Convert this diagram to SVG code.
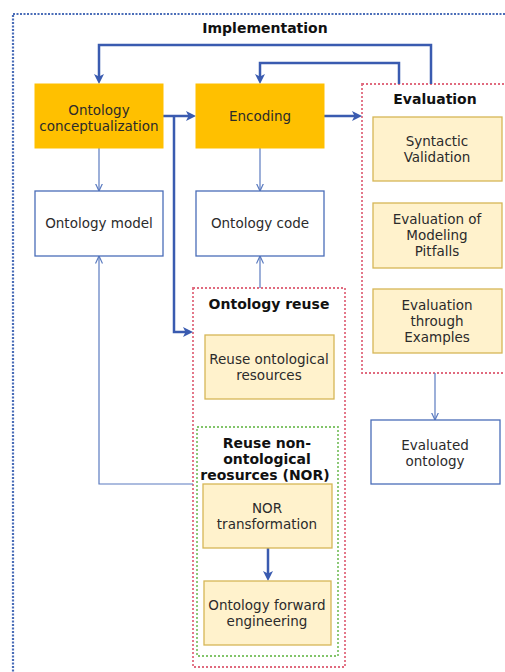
<svg xmlns="http://www.w3.org/2000/svg" width="505" height="672" viewBox="0 0 505 672">
<style>
.t{font-family:"DejaVu Sans",Verdana,sans-serif;font-size:13.5px;fill:#2b2b2b;text-anchor:middle}
.b{font-family:"DejaVu Sans",Verdana,sans-serif;font-size:14px;font-weight:bold;fill:#111;text-anchor:middle}
.main{fill:#FFC000;stroke:#FFC000;stroke-width:1}
.out{fill:#fff;stroke:#4A6DB8;stroke-width:1.3}
.sub{fill:#FFF2CC;stroke:#D6B656;stroke-width:1.3}
.red{fill:none;stroke:#E06A7E;stroke-width:1.8;stroke-dasharray:2 2}
.grn{fill:none;stroke:#82C46A;stroke-width:1.8;stroke-dasharray:2 2}
.thick{fill:none;stroke:#3A5BB0;stroke-width:2.5;marker-end:url(#ah)}
.thin{fill:none;stroke:#5B7BC0;stroke-width:1.2;marker-end:url(#av)}
</style>
<defs>
<marker id="ah" viewBox="0 0 10 10" refX="6" refY="5" markerWidth="10" markerHeight="10" markerUnits="userSpaceOnUse" orient="auto">
<path d="M0,0 L10,5 L0,10 L2.5,5 Z" fill="#3A5BB0"/>
</marker>
<marker id="av" viewBox="0 0 8 8" refX="7.5" refY="4" markerWidth="8" markerHeight="8" markerUnits="userSpaceOnUse" orient="auto">
<path d="M0,0.5 L7.5,4 L0,7.5" fill="none" stroke="#5B7BC0" stroke-width="1.2"/>
</marker>
</defs>

<g id="implementation">
<rect x="13" y="14" width="600" height="700" fill="none" stroke="#4A6DB8" stroke-width="2.2" stroke-dasharray="2 1.5"/>
<text class="b" x="265" y="33">Implementation</text>
</g>

<g id="evaluation">
<rect class="red" x="362" y="84" width="200" height="289"/>
<text class="b" x="435" y="104">Evaluation</text>
</g>

<g id="ontology-reuse">
<rect class="red" x="193" y="288" width="152" height="379"/>
<text class="b" x="269" y="309">Ontology reuse</text>
</g>

<g id="nor">
<rect class="grn" x="197" y="427" width="141" height="229"/>
<text class="b" x="267" y="448">Reuse non-</text>
<text class="b" x="267" y="464">ontological</text>
<text class="b" x="265" y="480" font-size="14.8">reosurces (NOR)</text>
</g>

<g id="connectors">
<path class="thick" d="M431,84 V45 H99 V80"/>
<path class="thick" d="M399,84 V63 H260 V80"/>
<path class="thick" d="M163,116 H192"/>
<path class="thick" d="M174,116 V332 H189"/>
<path class="thick" d="M324,116 H358"/>
<path class="thick" d="M268,548 V577"/>
<path class="thin" d="M99,148 V191"/>
<path class="thin" d="M260,148 V191"/>
<path class="thin" d="M260,288 V256"/>
<path class="thin" d="M435,373 V420"/>
<path class="thin" d="M193,484 H99 V256"/>
</g>

<g id="ontology-conceptualization">
<rect class="main" x="35" y="84" width="128" height="64"/>
<text class="t" x="99" y="115">Ontology</text>
<text class="t" x="99" y="131">conceptualization</text>
</g>

<g id="encoding">
<rect class="main" x="196" y="84" width="128" height="64"/>
<text class="t" x="260" y="121">Encoding</text>
</g>

<g id="ontology-model">
<rect class="out" x="35" y="191" width="128" height="65"/>
<text class="t" x="99" y="228">Ontology model</text>
</g>

<g id="ontology-code">
<rect class="out" x="196" y="191" width="128" height="65"/>
<text class="t" x="260" y="228">Ontology code</text>
</g>

<g id="syntactic-validation">
<rect class="sub" x="373" y="117" width="129" height="64"/>
<text class="t" x="437" y="146">Syntactic</text>
<text class="t" x="437" y="162">Validation</text>
</g>

<g id="modeling-pitfalls">
<rect class="sub" x="373" y="203" width="129" height="65"/>
<text class="t" x="437" y="224">Evaluation of</text>
<text class="t" x="437" y="240">Modeling</text>
<text class="t" x="437" y="256">Pitfalls</text>
</g>

<g id="through-examples">
<rect class="sub" x="373" y="289" width="129" height="64"/>
<text class="t" x="437" y="310">Evaluation</text>
<text class="t" x="437" y="326">through</text>
<text class="t" x="437" y="342">Examples</text>
</g>

<g id="evaluated-ontology">
<rect class="out" x="371" y="420" width="129" height="64"/>
<text class="t" x="435" y="450">Evaluated</text>
<text class="t" x="435" y="466">ontology</text>
</g>

<g id="reuse-ontological-resources">
<rect class="sub" x="205" y="335" width="129" height="64"/>
<text class="t" x="269" y="364">Reuse ontological</text>
<text class="t" x="269" y="380">resources</text>
</g>

<g id="nor-transformation">
<rect class="sub" x="203" y="484" width="129" height="64"/>
<text class="t" x="267" y="513">NOR</text>
<text class="t" x="267" y="529">transformation</text>
</g>

<g id="forward-engineering">
<rect class="sub" x="204" y="581" width="127" height="64"/>
<text class="t" x="267" y="610">Ontology forward</text>
<text class="t" x="267" y="626">engineering</text>
</g>
</svg>
